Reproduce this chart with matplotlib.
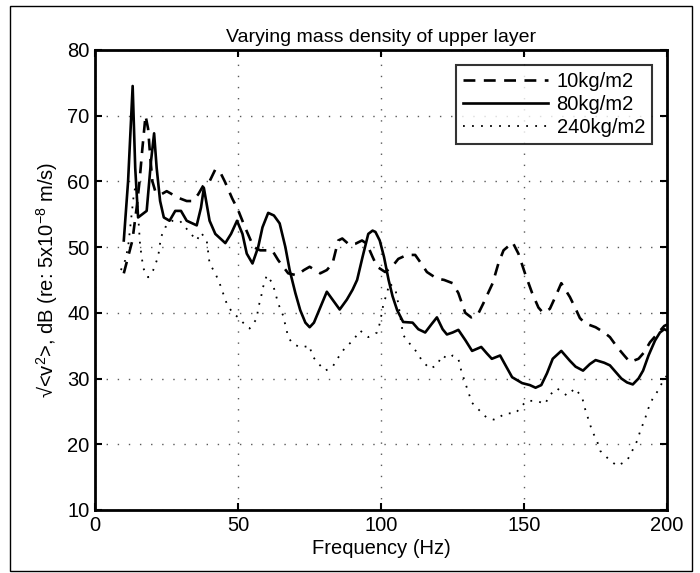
import matplotlib
matplotlib.use("Agg")
import matplotlib.pyplot as plt
from matplotlib.patches import Rectangle

plt.rcParams['font.family'] = ['Liberation Sans', 'DejaVu Sans']
plt.rcParams['mathtext.fontset'] = 'custom'
plt.rcParams['mathtext.rm'] = 'Liberation Sans'
plt.rcParams['mathtext.default'] = 'regular'

# 10 kg/m2 (dashed)
f_10 = [10, 11.5, 13, 14.5, 15.5, 16.5, 17.6, 18.5, 19.2, 20, 21, 23, 25, 27, 29,
        32, 34, 36, 38, 40, 42, 43.7, 45.4, 47.9, 50, 52.4, 55.4, 57.7, 60, 61.9,
        64, 67.5, 70.5, 73, 75, 78.7, 81, 83, 85, 86.4, 89, 91, 93.3, 95, 97,
        98.6, 101.4, 103.8, 106, 109, 111.9, 114, 116, 119.5, 122, 125, 127, 129.4,
        131.5, 134, 135.7, 139, 141, 142.8, 146, 148, 150.3, 152.8, 155, 156.6, 159,
        161, 163, 166, 167.8, 169.5, 171.3, 175, 178, 180, 182.5, 185, 187, 190,
        192, 194, 197, 199, 200]
v_10 = [46, 48.5, 51, 56, 60, 65, 70, 68, 64, 60, 58.5, 58, 58.5, 58, 57.5,
        57, 57, 58, 59.5, 60, 61.8, 61.4, 59.9, 57.4, 55.6, 53, 50, 49.5, 49.5, 49.5,
        48, 46, 45.7, 46.5, 47, 46, 46.5, 47.5, 51, 51.3, 50.3, 50.5, 51, 50.5, 48.5,
        47, 46.2, 47, 48.2, 48.8, 48.8, 47.5, 46.2, 45.2, 45, 44.5, 43, 40,
        39.3, 39.9, 41.4, 44.5, 47.5, 49.5, 50.7, 49, 46, 43, 40.8, 40, 40.6,
        42.5, 44.5, 42.4, 40.8, 39.2, 38.4, 37.8, 37, 36.3, 34.8, 33.5, 32.5, 33,
        34, 35.5, 37, 38, 38.2]

# 80 kg/m2 (solid)
f_80 = [10, 11.5, 13.1, 14, 15, 16.5, 18, 19.5, 20.6, 21.5, 22.7, 24, 26, 28, 30,
        32, 35.5, 37, 38, 39, 40, 42, 45.5, 47.5, 49.6, 51.5, 53, 55, 57, 58.5,
        60.5, 62.5, 64.5, 66.5, 68, 70, 71.7, 73.5, 75, 76.5, 78.7, 81, 83, 85.5,
        88, 90, 91.6, 93.5, 95.5, 97, 98, 99.5, 101, 102.6, 104, 105.6, 107.7, 111,
        113, 115.4, 117.5, 119.5, 121.5, 123, 125, 127, 129.5, 131.8, 135, 137,
        138.7, 141.6, 143.5, 145.8, 149.3, 152, 154, 156, 158, 160, 163, 166, 168,
        170.6, 173, 175, 178, 180, 182, 184, 186, 188, 190, 191.6, 193.5, 195.8,
        197.5, 199, 200]
v_80 = [51, 60, 74.5, 62, 54.5, 55, 55.5, 63, 67.3, 62, 57, 54.5, 54, 55.5, 55.5,
        54, 53.3, 56, 59, 56.5, 54, 52, 50.6, 52, 54, 52, 49, 47.5, 50, 53,
        55.2, 54.8, 53.6, 50, 46.5, 43, 40.4, 38.5, 37.8, 38.5, 40.8, 43.2, 42, 40.5,
        42, 43.5, 45, 48.5, 52, 52.5, 52.3, 51, 48.5, 45, 42.5, 40.4, 38.6, 38.5,
        37.5, 37, 38.2, 39.3, 37.5, 36.7, 37, 37.4, 35.8, 34.2, 34.8, 33.8,
        33, 33.5, 32, 30.2, 29.3, 29, 28.6, 29, 30.8, 33, 34.2, 32.7, 31.8,
        31.2, 32.2, 32.8, 32.4, 32, 31, 30, 29.4, 29.1, 30, 31.2, 33.5, 35.8,
        37, 37.5, 37.3]

# 240 kg/m2 (dotted)
f_240 = [9, 10.5, 11.5, 12.5, 13.5, 14.2, 15, 15.7, 16.8, 18.5, 20.3, 22, 23, 24.5,
         27, 29.6, 32.5, 35.5, 37, 39, 40, 42, 43.5, 44.7, 46, 48, 50, 51.7, 54,
         56.5, 57, 58, 58.7, 60, 62, 63, 64, 65.7, 67.5, 69, 72, 75, 75.8, 78,
         80.4, 82.9, 85, 87.4, 90.2, 92.6, 95.5, 98.6, 99.6, 100.7, 103, 105, 106,
         107.7, 110, 112.5, 114.3, 117, 119.5, 121.3, 123.4, 125, 127, 128, 130.5,
         131.8, 133.8, 137, 139.9, 143.4, 147, 149.3, 151, 154.5, 157.3, 159, 161.5,
         165, 167.8, 170.3, 171.3, 172.4, 173.8, 175.5, 176.6, 179.4, 182.5, 186,
         187.8, 189.5, 190.6, 192.3, 193.4, 195, 196.9, 198.3, 200]
v_240 = [46.5, 48, 50, 54, 58, 59.5, 55, 50.3, 46.8, 45.4, 46.5, 48.5, 51.5, 53,
         54, 54, 52.5, 51, 52.2, 51, 47.5, 46, 44.5, 43, 41.4, 40, 39.3, 38.5, 37.6,
         39.1, 40.7, 42.4, 43.9, 45.7, 44.5, 43, 41.4, 39.6, 36.3, 35.3, 34.7, 35, 33.5, 32.3,
         31.2, 31.7, 33.2, 34.7, 35.8, 37.3, 36.3, 37, 38.5, 41.1, 44.5, 43.5, 41.4,
         36.6, 35.3, 34, 32.7, 31.5, 32, 33.5, 33, 33.5, 33, 31.2, 27.9,
         26.3, 25.4, 24, 23.7, 24.7, 24.7, 25.9, 26.6, 26.6, 26.1, 27.5, 28.5,
         27.4, 28.5, 27.1, 25.4, 23.9, 22, 20.5, 19, 17.8, 16.7, 17.5,
         19, 20.5, 22, 23.9, 25.4, 27, 28.2, 29.4, 30.5]

labels = ['10kg/m2', '80kg/m2', '240kg/m2']

fig = plt.figure(figsize=(7, 5.73), dpi=100)
ax = fig.add_axes([0.136, 0.110, 0.817, 0.803])

ax.plot(f_10, v_10, color='black', lw=1.9, linestyle=(0, (4.5, 3.2)), label=labels[0])
ax.plot(f_80, v_80, color='black', lw=1.9, linestyle='-', label=labels[1])
ax.plot(f_240, v_240, color='black', lw=1.3, linestyle=(0, (1, 4)), label=labels[2])

ax.set_xlim(0, 200)
ax.set_ylim(10, 80)
ax.set_xticks([0, 50, 100, 150, 200])
ax.set_yticks([10, 20, 30, 40, 50, 60, 70, 80])
ax.grid(True, color='0.35', linestyle=(0, (1, 7)), lw=1)
ax.tick_params(direction='in', length=5, width=1.5, top=True, right=True,
               labelsize=14.5, pad=4)
for s in ax.spines.values():
    s.set_linewidth(2)

ax.set_title('Varying mass density of upper layer', fontsize=14, pad=6)
ax.set_xlabel('Frequency (Hz)', fontsize=14.5, labelpad=3)
ax.set_ylabel('\u221a<v$^2$>, dB (re: 5x10$^{-8}$ m/s)', fontsize=14.5, labelpad=5)

leg = ax.legend(loc='upper right', fontsize=14.5, handlelength=4.2, handletextpad=0.45,
                frameon=True, fancybox=False, borderaxespad=0.75, borderpad=0.35,
                labelspacing=0.2)
leg.get_frame().set_edgecolor('black')
leg.get_frame().set_linewidth(1.5)

fig.patches.append(Rectangle((0.014, 0.004), 0.975, 0.985, transform=fig.transFigure,
                             fill=False, edgecolor='black', lw=1))

fig.savefig('out.png', dpi=100)
